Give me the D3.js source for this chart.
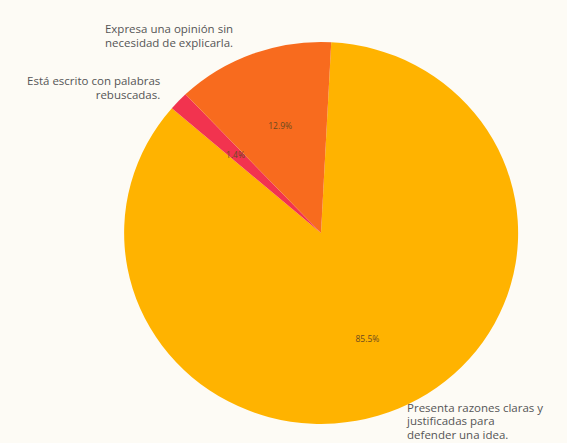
<!DOCTYPE html>
<html><head><meta charset="utf-8">
<script src="https://cdn.jsdelivr.net/npm/d3@7"></script>
<style>html,body{margin:0;padding:0;background:#fdfbf5;}svg{display:block;}</style>
</head><body>
<svg id="chart" width="567" height="443"></svg>
<script>
const categories = [
  "Presenta razones claras y\njustificadas para\ndefender una idea.",
  "Está escrito con palabras\nrebuscadas.",
  "Expresa una opinión sin\nnecesidad de explicarla."
];
const values = [85.5, 1.6, 12.9];
const pctLabels = ["85.5%", "1.4%", "12.9%"];
const colors = ["#ffb300", "#f2334f", "#f86b1e"];

const W = 567, H = 443;
const cx = 321, cy = 233, rx = 197, ry = 191;
const svg = d3.select("#chart");
svg.append("rect").attr("width", W).attr("height", H).attr("fill", "#fdfbf5");

const start = 3 * Math.PI / 180;
const pie = d3.pie().sort(null).value(d => d).startAngle(start).endAngle(start + 2 * Math.PI);
const arcs = pie(values);
const arc = d3.arc().innerRadius(0).outerRadius(1);

const g = svg.append("g").attr("transform", `translate(${cx},${cy}) scale(${rx},${ry})`);
g.selectAll("path").data(arcs).join("path")
  .attr("d", arc).attr("fill", (d, i) => colors[i]);

function pos(d, f) {
  const a = (d.startAngle + d.endAngle) / 2;
  return [cx + f * rx * Math.sin(a), cy - f * ry * Math.cos(a)];
}

// small layout nudges for outer labels (index -> [dx, dy])
const nudge = {0: [1, -5], 1: [-4, 0], 2: [-13, 0]};
const fs = 11.5, lh = 13.5;
arcs.forEach((d, i) => {
  let [x, y] = pos(d, 1.1);
  const anchor = x < cx ? "end" : "start";
  x += nudge[i][0]; y += nudge[i][1];
  const lines = categories[i].split("\n");
  const t = svg.append("text")
    .attr("font-family", "Open Sans, sans-serif")
    .attr("font-size", fs)
    .attr("fill", "#555555")
    .attr("text-anchor", anchor);
  const y0 = y - (lines.length - 1) * lh / 2;
  lines.forEach((ln, j) => {
    t.append("tspan").attr("x", x).attr("y", y0 + j * lh).attr("dy", "0.35em").text(ln);
  });
});

// percentage labels
arcs.forEach((d, i) => {
  const [x, y] = pos(d, 0.6);
  svg.append("text")
    .attr("x", x).attr("y", y + 1).attr("dy", "0.35em")
    .attr("text-anchor", "middle")
    .attr("font-family", "Open Sans, sans-serif")
    .attr("font-size", 8.5)
    .attr("fill", "#6a4a20")
    .text(pctLabels[i]);
});
</script>
</body></html>
